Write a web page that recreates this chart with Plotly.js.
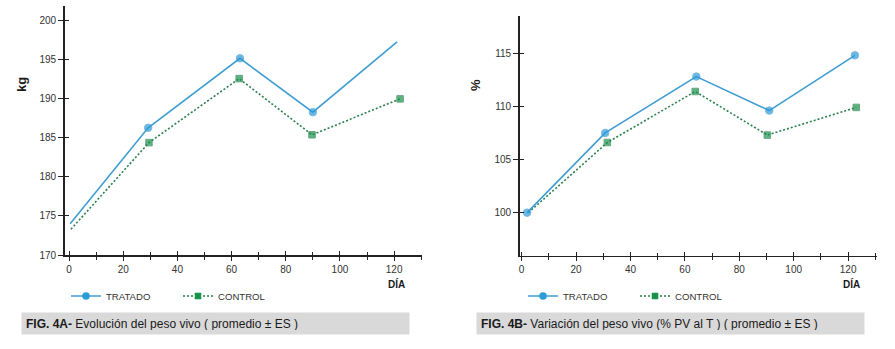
<!DOCTYPE html>
<html>
<head>
<meta charset="utf-8">
<script src="https://cdn.plot.ly/plotly-3.0.1.min.js"></script>
<style>html,body{margin:0;padding:0;background:#fff;}#chart{width:895px;height:349px;}</style>
</head>
<body>
<div id="chart"></div>
<script>
// ---- Data ----
// Fig 4A: live weight (kg)
const diaA_tratado = [0.4, 29.2, 63.1, 90.0, 121.1];
const kgTratado    = [174.0, 186.3, 195.2, 188.3, 197.3];
const markA_tratado = [false, true, true, true, false];
const diaA_control = [0.7, 29.5, 62.8, 89.7, 122.2];
const kgControl    = [173.3, 184.4, 192.6, 185.4, 190.0];
const markA_control = [false, true, true, true, true];

// Fig 4B: live weight variation (% of initial)
const diaB_tratado = [2.0, 30.7, 64.2, 91.0, 122.5];
const pctTratado   = [100.0, 107.5, 112.8, 109.6, 114.8];
const markB_tratado = [true, true, true, true, true];
const diaB_control = [2.5, 31.5, 63.8, 90.3, 123.0];
const pctControl   = [100.0, 106.6, 111.4, 107.3, 109.9];
const markB_control = [false, true, true, true, true];

const seriesNames = ['TRATADO', 'CONTROL'];
const captionA = '<b>FIG. 4A-</b> Evolución del peso vivo ( promedio ± ES )';
const captionB = '<b>FIG. 4B-</b> Variación del peso vivo (% PV al T ) ( promedio ± ES )';
const yTitleA = 'kg', yTitleB = '%', xTitle = 'DÍA';

// ---- Styles ----
const FONT = 'Liberation Sans, Arial, Helvetica, sans-serif';
const BLUE_LINE = '#3f9dd2', BLUE_MK = '#2b9ad9';
const GREEN_LINE = '#2a7f4e', GREEN_MK = '#17934a';
const AX = '#222222', TXT = '#333333';
const W = 895, H = 349;

function sizes(flags, s){ return flags.map(f => f ? s : 0); }

function tratado(x, y, flags, xa, ya){
  return {x:x, y:y, xaxis:xa, yaxis:ya, mode:'lines+markers', showlegend:false, hoverinfo:'skip',
    line:{color:BLUE_LINE, width:1.6},
    marker:{symbol:'circle', color:BLUE_MK, size:sizes(flags, 7.5)}};
}
function control(x, y, flags, xa, ya){
  return {x:x, y:y, xaxis:xa, yaxis:ya, mode:'lines+markers', showlegend:false, hoverinfo:'skip',
    line:{color:GREEN_LINE, width:1.6, dash:'2px,2px'},
    marker:{symbol:'square', color:GREEN_MK, size:sizes(flags, 6.5)}};
}
function legendItems(xa, ya, lg){
  return [
    {x:[null], y:[null], xaxis:xa, yaxis:ya, legend:lg, name:seriesNames[0], mode:'lines+markers',
      line:{color:BLUE_LINE, width:1.6}, marker:{symbol:'circle', color:BLUE_MK, size:7.5}},
    {x:[null], y:[null], xaxis:xa, yaxis:ya, legend:lg, name:seriesNames[1], mode:'lines+markers',
      line:{color:GREEN_LINE, width:1.6, dash:'2px,2px'}, marker:{symbol:'square', color:GREEN_MK, size:6.5}}
  ];
}

const data = [
  control(diaA_control, kgControl, markA_control, 'x', 'y'),
  tratado(diaA_tratado, kgTratado, markA_tratado, 'x', 'y'),
  control(diaB_control, pctControl, markB_control, 'x2', 'y2'),
  tratado(diaB_tratado, pctTratado, markB_tratado, 'x2', 'y2'),
  ...legendItems('x3', 'y3', 'legend'),
  ...legendItems('x4', 'y4', 'legend2')
];

const px = v => v / W, py = v => 1 - v / H;

function xMain(dom, range, anchor){
  return {domain:dom, range:range, anchor:anchor, showgrid:false, zeroline:false,
    showline:true, linecolor:AX, linewidth:1.5,
    tick0:0, dtick:20, ticks:'outside', ticklen:4, tickwidth:1, tickcolor:AX,
    minor:{dtick:10, tick0:0, ticks:'outside', ticklen:3, tickwidth:1, tickcolor:AX, showgrid:false},
    tickfont:{family:FONT, size:10, color:TXT}, fixedrange:true};
}
function xOver(over, range, anchor){
  return {overlaying:over, range:range, anchor:anchor, showgrid:false, zeroline:false, showline:false,
    tick0:0, dtick:20, ticks:'inside', ticklen:4, tickwidth:1, tickcolor:AX,
    minor:{dtick:10, tick0:0, ticks:'inside', ticklen:3, tickwidth:1, tickcolor:AX, showgrid:false},
    showticklabels:false};
}
function yMain(dom, range, anchor, t0){
  return {domain:dom, range:range, anchor:anchor, showgrid:false, zeroline:false,
    showline:true, linecolor:AX, linewidth:1.8,
    tick0:t0, dtick:5, ticks:'outside', ticklen:5, tickwidth:1, tickcolor:AX,
    tickfont:{family:FONT, size:10, color:TXT}, fixedrange:true};
}
function yOver(over, range, anchor, t0){
  return {overlaying:over, range:range, anchor:anchor, showgrid:false, zeroline:false, showline:false,
    tick0:t0, dtick:5, ticks:'inside', ticklen:4, tickwidth:1, tickcolor:AX, showticklabels:false};
}

const rxA = [-1.5, 130.3], ryA = [170, 201.9];
const rxB = [-0.6, 130.5], ryB = [95.95, 118.5];

function caption(x, text){
  return {xref:'paper', yref:'paper', x:px(x), y:py(312), xanchor:'left', yanchor:'top',
    text:text, showarrow:false, align:'left', bgcolor:'#d9d9d9', borderpad:4, width:379, height:13,
    font:{family:FONT, size:12, color:'#1a1a1a'}};
}
function lab(x, y, text, size, angle){
  return {xref:'paper', yref:'paper', x:px(x), y:py(y), xanchor:'center', yanchor:'middle',
    text:'<b>'+text+'</b>', showarrow:false, textangle:angle||0, font:{family:FONT, size:size, color:'#1a1a1a'}};
}

const legendStyle = (x) => ({x:px(x), y:py(296), xanchor:'left', yanchor:'middle', orientation:'h',
  bgcolor:'rgba(0,0,0,0)', borderwidth:0, font:{family:FONT, size:9.6, color:TXT},
  entrywidth:67, entrywidthmode:'pixels', itemclick:false, itemdoubleclick:false});

const layout = {
  width:W, height:H, margin:{l:0, r:0, t:0, b:0},
  paper_bgcolor:'#ffffff', plot_bgcolor:'#ffffff',
  font:{family:FONT, color:TXT},
  xaxis: xMain([px(65), px(422)], rxA, 'y'),
  yaxis: yMain([py(255), py(6)], ryA, 'x', 170),
  xaxis2: xMain([px(520), px(876.7)], rxB, 'y2'),
  yaxis2: yMain([py(255.7), py(16)], ryB, 'x2', 100),
  xaxis3: xOver('x', rxA, 'y3'),
  yaxis3: yOver('y', ryA, 'x3', 170),
  xaxis4: xOver('x2', rxB, 'y4'),
  yaxis4: yOver('y2', ryB, 'x4', 100),
  legend: legendStyle(66),
  legend2: legendStyle(523),
  annotations:[
    lab(22, 85, yTitleA, 13, -90),
    lab(476, 85, yTitleB, 13, -90),
    lab(396, 284, xTitle, 10),
    lab(851, 284, xTitle, 10),
    caption(21, captionA),
    caption(476, captionB)
  ],
  showlegend:true
};

Plotly.newPlot('chart', data, layout, {staticPlot:true, displayModeBar:false});
</script>
</body>
</html>
